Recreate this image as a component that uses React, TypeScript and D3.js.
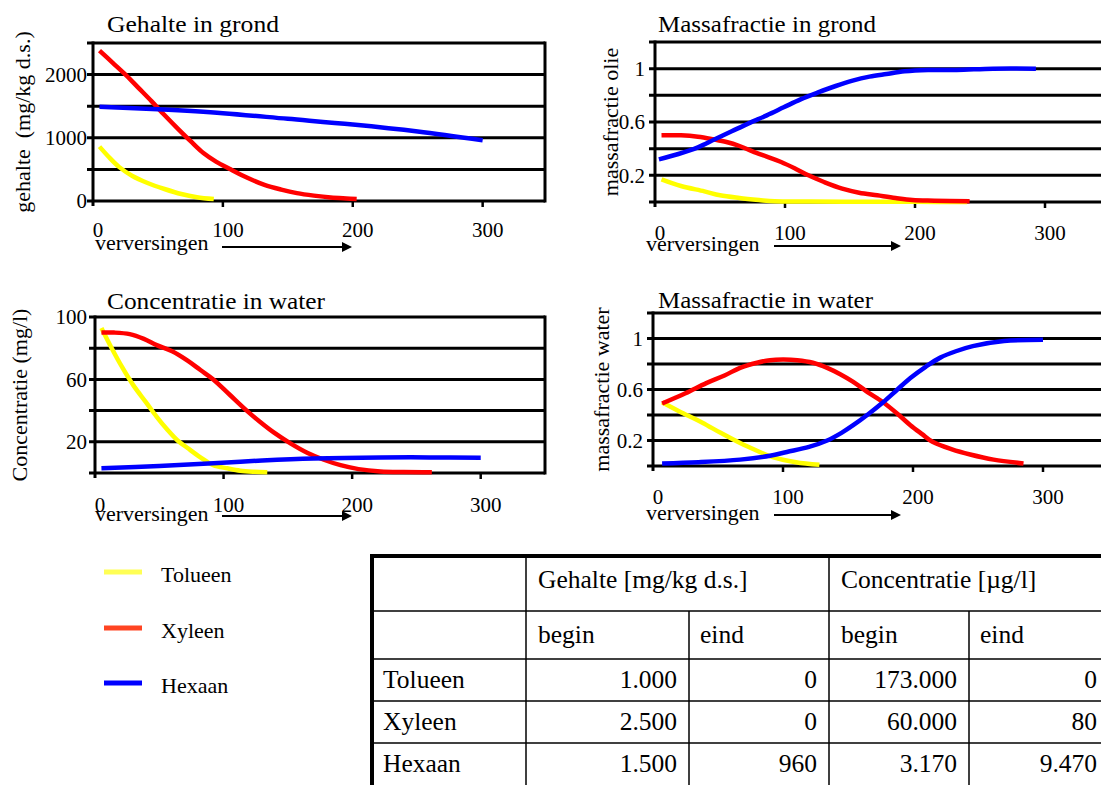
import React from "react";
import * as d3 from "d3";

const FONT = "Liberation Serif, DejaVu Serif, Times New Roman, serif";

// stoffen
const seriesNames = ["Tolueen", "Xyleen", "Hexaan"];
const lineColors = ["#ffff00", "#ff0000", "#0000ff"];
const legendColors = ["#ffff55", "#ff4422", "#0000ff"];

// Gehalte in grond (mg/kg d.s.)
const grondTolueenX = [5, 12, 20, 30, 42, 55, 68, 80, 93];
const grondTolueen = [860, 700, 540, 400, 285, 190, 110, 60, 30];
const grondXyleenX = [5, 15, 25, 35, 45, 55, 66, 76, 85, 95, 105, 118, 132, 145, 157, 170, 183, 195, 203];
const grondXyleen = [2380, 2190, 2000, 1790, 1580, 1360, 1130, 930, 760, 620, 510, 375, 255, 180, 125, 85, 55, 40, 32];
const grondHexaanX = [5, 50, 100, 150, 200, 250, 300];
const grondHexaan = [1490, 1450, 1390, 1300, 1210, 1100, 960];

// Massafractie in grond (olie)
const olieTolueenX = [5, 20, 38, 50, 65, 80, 92, 120, 160, 200, 240];
const olieTolueen = [0.17, 0.12, 0.08, 0.05, 0.03, 0.015, 0.005, 0.003, 0.002, 0.001, 0];
const olieXyleenX = [5, 20, 33, 45, 55, 65, 75, 86, 97, 108, 118, 130, 144, 157, 171, 185, 198, 215, 242];
const olieXyleen = [0.5, 0.5, 0.49, 0.47, 0.45, 0.42, 0.38, 0.34, 0.3, 0.25, 0.2, 0.15, 0.1, 0.07, 0.05, 0.03, 0.015, 0.01, 0.005];
const olieHexaanX = [3, 18, 33, 46, 59, 72, 86, 99, 112, 125, 139, 152, 165, 178, 192, 210, 232, 260, 293];
const olieHexaan = [0.32, 0.36, 0.41, 0.47, 0.53, 0.59, 0.65, 0.71, 0.77, 0.82, 0.87, 0.91, 0.94, 0.96, 0.98, 0.99, 0.99, 1.0, 1.0];

// Concentratie in water (mg/l)
const concTolueenX = [5, 13, 21, 30, 40, 48, 56, 64, 72, 82, 92, 103, 113, 124, 134];
const concTolueen = [93, 80, 68, 56, 45, 36, 28, 21, 16, 10, 5, 3, 1.5, 0.8, 0.5];
const concXyleenX = [5, 15, 27, 38, 48, 60, 72, 82, 92, 105, 118, 128, 139, 152, 165, 178, 191, 205, 222, 240, 262];
const concXyleen = [90, 90, 89, 86, 82, 78, 72, 66, 60, 50, 40, 33, 26, 19, 13, 8.5, 5, 2.5, 1, 0.6, 0.5];
const concHexaanX = [5, 50, 92, 130, 170, 222, 260, 300];
const concHexaan = [3, 4.5, 6.3, 8, 9.3, 10, 10, 9.8];

// Massafractie in water
const waterTolueenX = [7, 20, 38, 52, 67, 80, 92, 110, 128];
const waterTolueen = [0.5, 0.43, 0.34, 0.26, 0.18, 0.12, 0.07, 0.03, 0.01];
const waterXyleenX = [7, 25, 41, 55, 67, 80, 90, 100, 111, 123, 134, 144, 154, 165, 177, 188, 198, 207, 215, 230, 244, 262, 285];
const waterXyleen = [0.49, 0.57, 0.65, 0.71, 0.77, 0.81, 0.83, 0.835, 0.83, 0.81, 0.77, 0.72, 0.66, 0.58, 0.5, 0.41, 0.32, 0.25, 0.19, 0.13, 0.09, 0.05, 0.02];
const waterHexaanX = [7, 35, 67, 90, 103, 120, 134, 145, 154, 166, 177, 188, 198, 210, 221, 233, 246, 270, 300];
const waterHexaan = [0.02, 0.03, 0.05, 0.08, 0.11, 0.15, 0.2, 0.26, 0.32, 0.41, 0.5, 0.6, 0.69, 0.78, 0.85, 0.9, 0.94, 0.98, 0.99];

const xTicks = [0, 100, 200, 300];

// tabel
const tableHeader = ["Gehalte [mg/kg d.s.]", "Concentratie [µg/l]"];
const tableSub = ["begin", "eind", "begin", "eind"];
const gehalteBegin = ["1.000", "2.500", "1.500"];
const gehalteEind = ["0", "0", "960"];
const concBegin = ["173.000", "60.000", "3.170"];
const concEind = ["0", "80", "9.470"];

const zip = (xs: number[], ys: number[]) => xs.map((v, i) => [v, ys[i]] as [number, number]);

const panels = [
  {
    title: "Gehalte in grond", titleX: 107, titleY: 32, titleLen: 172,
    yLabel: "gehalte  (mg/kg d.s.)", labelX: 30,
    left: 93, right: 545, top: 43, bottom: 201, xMax: 348,
    yMax: 2500, yStep: 500, yLabels: [0, 1000, 2000], yLabelRight: 87,
    tickBase: 237, vervX: 95, vervY: 250, arrow: [222, 352, 247],
    data: [zip(grondTolueenX, grondTolueen), zip(grondXyleenX, grondXyleen), zip(grondHexaanX, grondHexaan)],
  },
  {
    title: "Massafractie in grond", titleX: 658, titleY: 32, titleLen: 218,
    yLabel: "massafractie olie", labelX: 618,
    left: 655, right: 1110, top: 42, bottom: 202, xMax: 350,
    yMax: 1.2, yStep: 0.2, yLabels: [0.2, 0.6, 1], yLabelRight: 645,
    tickBase: 240, vervX: 646, vervY: 251, arrow: [774, 901, 246],
    data: [zip(olieTolueenX, olieTolueen), zip(olieXyleenX, olieXyleen), zip(olieHexaanX, olieHexaan)],
  },
  {
    title: "Concentratie in water", titleX: 107, titleY: 309, titleLen: 218,
    yLabel: "Concentratie (mg/l)", labelX: 27,
    left: 95, right: 545, top: 317, bottom: 473, xMax: 350,
    yMax: 100, yStep: 20, yLabels: [20, 60, 100], yLabelRight: 87,
    tickBase: 512, vervX: 95, vervY: 521, arrow: [222, 352, 516],
    data: [zip(concTolueenX, concTolueen), zip(concXyleenX, concXyleen), zip(concHexaanX, concHexaan)],
  },
  {
    title: "Massafractie in water", titleX: 658, titleY: 308, titleLen: 215,
    yLabel: "massafractie water", labelX: 609,
    left: 653, right: 1108, top: 313, bottom: 466, xMax: 350,
    yMax: 1.2, yStep: 0.2, yLabels: [0.2, 0.6, 1], yLabelRight: 643,
    tickBase: 504, vervX: 646, vervY: 520, arrow: [774, 901, 515],
    data: [zip(waterTolueenX, waterTolueen), zip(waterXyleenX, waterXyleen), zip(waterHexaanX, waterHexaan)],
  },
];

const txt = { fontFamily: FONT };

const Panel = ({ p }: { p: any }) => {
  const x = d3.scaleLinear().domain([0, p.xMax]).range([p.left, p.right]);
  const y = d3.scaleLinear().domain([0, p.yMax]).range([p.bottom, p.top]);
  const line = d3.line<[number, number]>()
    .x(d => x(d[0]))
    .y(d => y(d[1]))
    .curve(d3.curveCatmullRom);
  const grid = d3.range(1, Math.round(p.yMax / p.yStep) + 1).map(i => i * p.yStep);
  const [ax1, ax2, ay] = p.arrow;

  return (
    <g>
      <text x={p.titleX} y={p.titleY} fontSize={24} style={txt} textLength={p.titleLen} lengthAdjust="spacingAndGlyphs">{p.title}</text>
      <text
        transform={`translate(${p.labelX},${(p.top + p.bottom) / 2}) rotate(-90)`}
        textAnchor="middle" fontSize={22} style={{ ...txt, whiteSpace: "pre" }}
      >{p.yLabel}</text>

      {/* gridlines */}
      {grid.map(v => (
        <line key={v} x1={p.left - 6} x2={x(p.xMax)} y1={y(v)} y2={y(v)} stroke="#000" strokeWidth={3} />
      ))}
      {/* bottom axis + ticks */}
      <line x1={p.left - 6} x2={x(p.xMax)} y1={y(0)} y2={y(0)} stroke="#000" strokeWidth={3} />
      {xTicks.slice(1).map(v => (
        <line key={v} x1={x(v)} x2={x(v)} y1={y(0)} y2={y(0) + 6} stroke="#000" strokeWidth={2.5} />
      ))}
      <line x1={p.left} x2={p.left} y1={p.top - 1.5} y2={p.bottom + 5} stroke="#000" strokeWidth={3} />
      <line x1={x(p.xMax)} x2={x(p.xMax)} y1={p.top - 1.5} y2={p.bottom + 1.5} stroke="#000" strokeWidth={3} />

      {p.yLabels.map((v: number) => (
        <text key={v} x={p.yLabelRight} y={y(v)} dy="0.35em" textAnchor="end" fontSize={21} style={txt}>{String(v)}</text>
      ))}
      {xTicks.map(v => (
        <text key={v} x={x(v) + 5} y={p.tickBase} textAnchor="middle" fontSize={21} style={txt}>{String(v)}</text>
      ))}

      {p.data.map((d: [number, number][], i: number) => (
        <path key={i} d={line(d) || ""} fill="none" stroke={lineColors[i]} strokeWidth={4.5} strokeLinejoin="round" />
      ))}

      <text x={p.vervX} y={p.vervY} fontSize={22} style={txt}>verversingen</text>
      <line x1={ax1} x2={ax2 - 8} y1={ay} y2={ay} stroke="#000" strokeWidth={2} />
      <path d={`M${ax2 - 10},${ay - 5} L${ax2},${ay} L${ax2 - 10},${ay + 5} Z`} fill="#000" />
    </g>
  );
};

const Legend = () => {
  const ys = [572, 628, 683];
  return (
    <g>
      {seriesNames.map((n, i) => (
        <g key={n}>
          <line x1={104} x2={142} y1={ys[i]} y2={ys[i]} stroke={legendColors[i]} strokeWidth={5} />
          <text x={161} y={ys[i] + 10} fontSize={22} style={txt}>{n}</text>
        </g>
      ))}
    </g>
  );
};

const Table = () => {
  const colX = [372, 526, 689, 829, 969, 1101];
  const rowY = [556, 611, 659, 701, 743, 785];
  const cols = [gehalteBegin, gehalteEind, concBegin, concEind];
  return (
    <g fontSize={25.5} style={txt}>
      <line x1={370} x2={1101} y1={rowY[0]} y2={rowY[0]} stroke="#000" strokeWidth={4} />
      <line x1={colX[0]} x2={colX[0]} y1={rowY[0] - 2} y2={785} stroke="#000" strokeWidth={4} />
      {rowY.slice(1, 5).map(r => (
        <line key={r} x1={colX[0]} x2={1101} y1={r} y2={r} stroke="#000" strokeWidth={1.5} />
      ))}
      {[colX[1], colX[3]].map(c => (
        <line key={c} x1={c} x2={c} y1={rowY[0]} y2={785} stroke="#000" strokeWidth={1.5} />
      ))}
      {[colX[2], colX[4]].map(c => (
        <line key={c} x1={c} x2={c} y1={rowY[1]} y2={785} stroke="#000" strokeWidth={1.5} />
      ))}
      {tableHeader.map((h, i) => (
        <text key={h} x={[colX[1], colX[3]][i] + 12} y={588} style={txt}>{h}</text>
      ))}
      {tableSub.map((s, i) => (
        <text key={i} x={colX[i + 1] + (i % 2 === 0 ? 12 : 11)} y={643} style={txt}>{s}</text>
      ))}
      {seriesNames.map((n, r) => (
        <g key={n}>
          <text x={383} y={rowY[r + 2] + 29} style={txt}>{n}</text>
          {cols.map((c, k) => (
            <text key={k} x={colX[k + 2] - 12 + (k === 3 ? 8 : 0)} y={rowY[r + 2] + 29} textAnchor="end" style={txt}>{c[r]}</text>
          ))}
        </g>
      ))}
    </g>
  );
};

export default function App() {
  return (
    <svg
      width={1101} height={785}
      style={{ position: "absolute", left: 0, top: 0, background: "#fff" }}
      fill="#000"
    >
      {panels.map(p => <Panel key={p.title} p={p} />)}
      <Legend />
      <Table />
    </svg>
  );
}
